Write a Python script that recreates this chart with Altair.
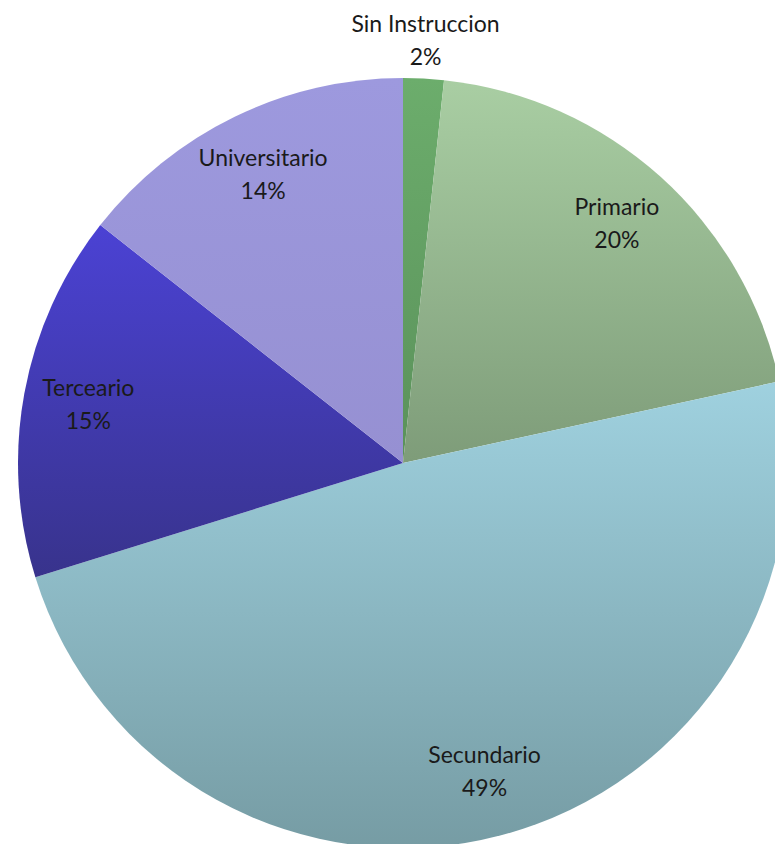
import altair as alt
import pandas as pd

categories = ["Sin Instruccion", "Primario", "Secundario", "Terceario", "Universitario"]
values = [1.7, 19.9, 48.6, 15.4, 14.4]

top_colors = ["#6cad6c", "#a9cea3", "#9fd1df", "#4b42d4", "#9d99de"]
bottom_colors = ["#5a915a", "#7e9c79", "#769ca4", "#38338c", "#9690d2"]

CX, CY, R = 395, 455, 385
W, H = 767, 836
LINE_H = 33

df = pd.DataFrame({"cat": categories, "value": values, "order": list(range(len(categories)))})

base = alt.Chart(df).transform_window(
    end="sum(value)", sort=[alt.SortField("order")], frame=[None, 0]
).transform_calculate(
    start="datum.end - datum.value",
    mid="(datum.end - datum.value / 2) / 100 * 2 * PI",
    lr="datum.value < 5 ? 422 : 320",
    lx=f"{CX} + datum.lr * sin(datum.mid)",
    ly=f"{CY} - datum.lr * cos(datum.mid) - {LINE_H / 2}",
    label="datum.cat + '\\n' + format(datum.value, '.0f') + '%'",
)

theta_scale = alt.Scale(domain=[0, 100], range=[0, 6.283185307179586])

layers = []
for c, t, b in zip(categories, top_colors, bottom_colors):
    grad = alt.Gradient(
        gradient="linear",
        stops=[alt.GradientStop(color=t, offset=0), alt.GradientStop(color=b, offset=1)],
        x1=0, x2=0, y1=0, y2=1,
    )
    layers.append(
        base.transform_filter(alt.datum.cat == c)
        .mark_arc(fill=grad, outerRadius=R)
        .encode(
            theta=alt.Theta("start:Q", scale=theta_scale),
            theta2="end:Q",
            x=alt.value(CX),
            y=alt.value(CY),
        )
    )

labels = base.mark_text(
    font="Lato", fontSize=23, color="#1a1a1a", lineBreak="\n",
    lineHeight=LINE_H, align="center", baseline="middle",
).encode(
    x=alt.X("lx:Q", scale=None),
    y=alt.Y("ly:Q", scale=None),
    text="label:N",
)

chart = alt.layer(*layers, labels).properties(
    width=W, height=H, autosize="none", padding=0
).configure_view(stroke=None)

chart.save("out.html", embed_options={"renderer": "svg", "actions": False})
